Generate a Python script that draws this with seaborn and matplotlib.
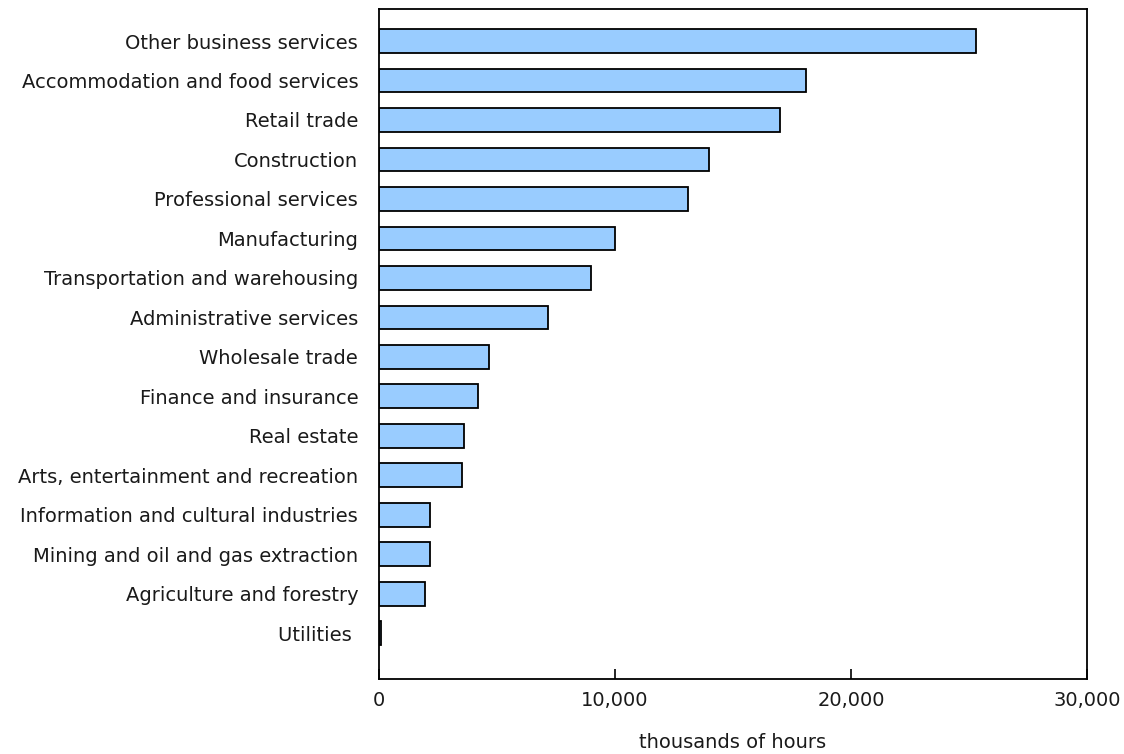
import pandas as pd
import matplotlib
matplotlib.use("Agg")
import matplotlib.pyplot as plt
import seaborn as sns
from matplotlib.ticker import FuncFormatter

# industries, top to bottom
industries = [
    "Other business services",
    "Accommodation and food services",
    "Retail trade",
    "Construction",
    "Professional services",
    "Manufacturing",
    "Transportation and warehousing",
    "Administrative services",
    "Wholesale trade",
    "Finance and insurance",
    "Real estate",
    "Arts, entertainment and recreation",
    "Information and cultural industries",
    "Mining and oil and gas extraction",
    "Agriculture and forestry",
    "Utilities ",
]
# thousands of hours
hours = [25300, 18100, 17000, 14000, 13100, 10000, 9000, 7150,
         4650, 4200, 3620, 3520, 2180, 2170, 1930, 100]

df = pd.DataFrame({"industry": industries, "hours": hours})

sns.set_theme(style="white")
plt.rcParams["font.family"] = ["DejaVu Sans"]

fig = plt.figure(figsize=(11.24, 7.54), dpi=100)
ax = fig.add_axes([0.3372, 0.0995, 0.6299, 0.8885])

sns.barplot(data=df, x="hours", y="industry", orient="h", color="#99CCFF",
            edgecolor="black", linewidth=1.3, width=0.6, saturation=1, ax=ax)

ax.set_xlim(0, 30000)
ax.set_ylim(16.16, -0.81)
ax.set_xticks([0, 10000, 20000, 30000])
ax.xaxis.set_major_formatter(FuncFormatter(lambda v, p: f"{int(v):,}"))
ax.tick_params(axis="x", bottom=True, direction="in", length=7, width=1.2,
               color="black", labelsize=14, pad=9, labelcolor="#1a1a1a")
ax.tick_params(axis="y", left=False, length=0, labelsize=14, pad=15,
               labelcolor="#1a1a1a")
ax.set_ylabel("")
ax.set_xlabel("thousands of hours", fontsize=14, labelpad=16, color="#1a1a1a")

for s in ax.spines.values():
    s.set_visible(True)
    s.set_color("black")
    s.set_linewidth(1.3)

fig.savefig("out.png", dpi=100)
